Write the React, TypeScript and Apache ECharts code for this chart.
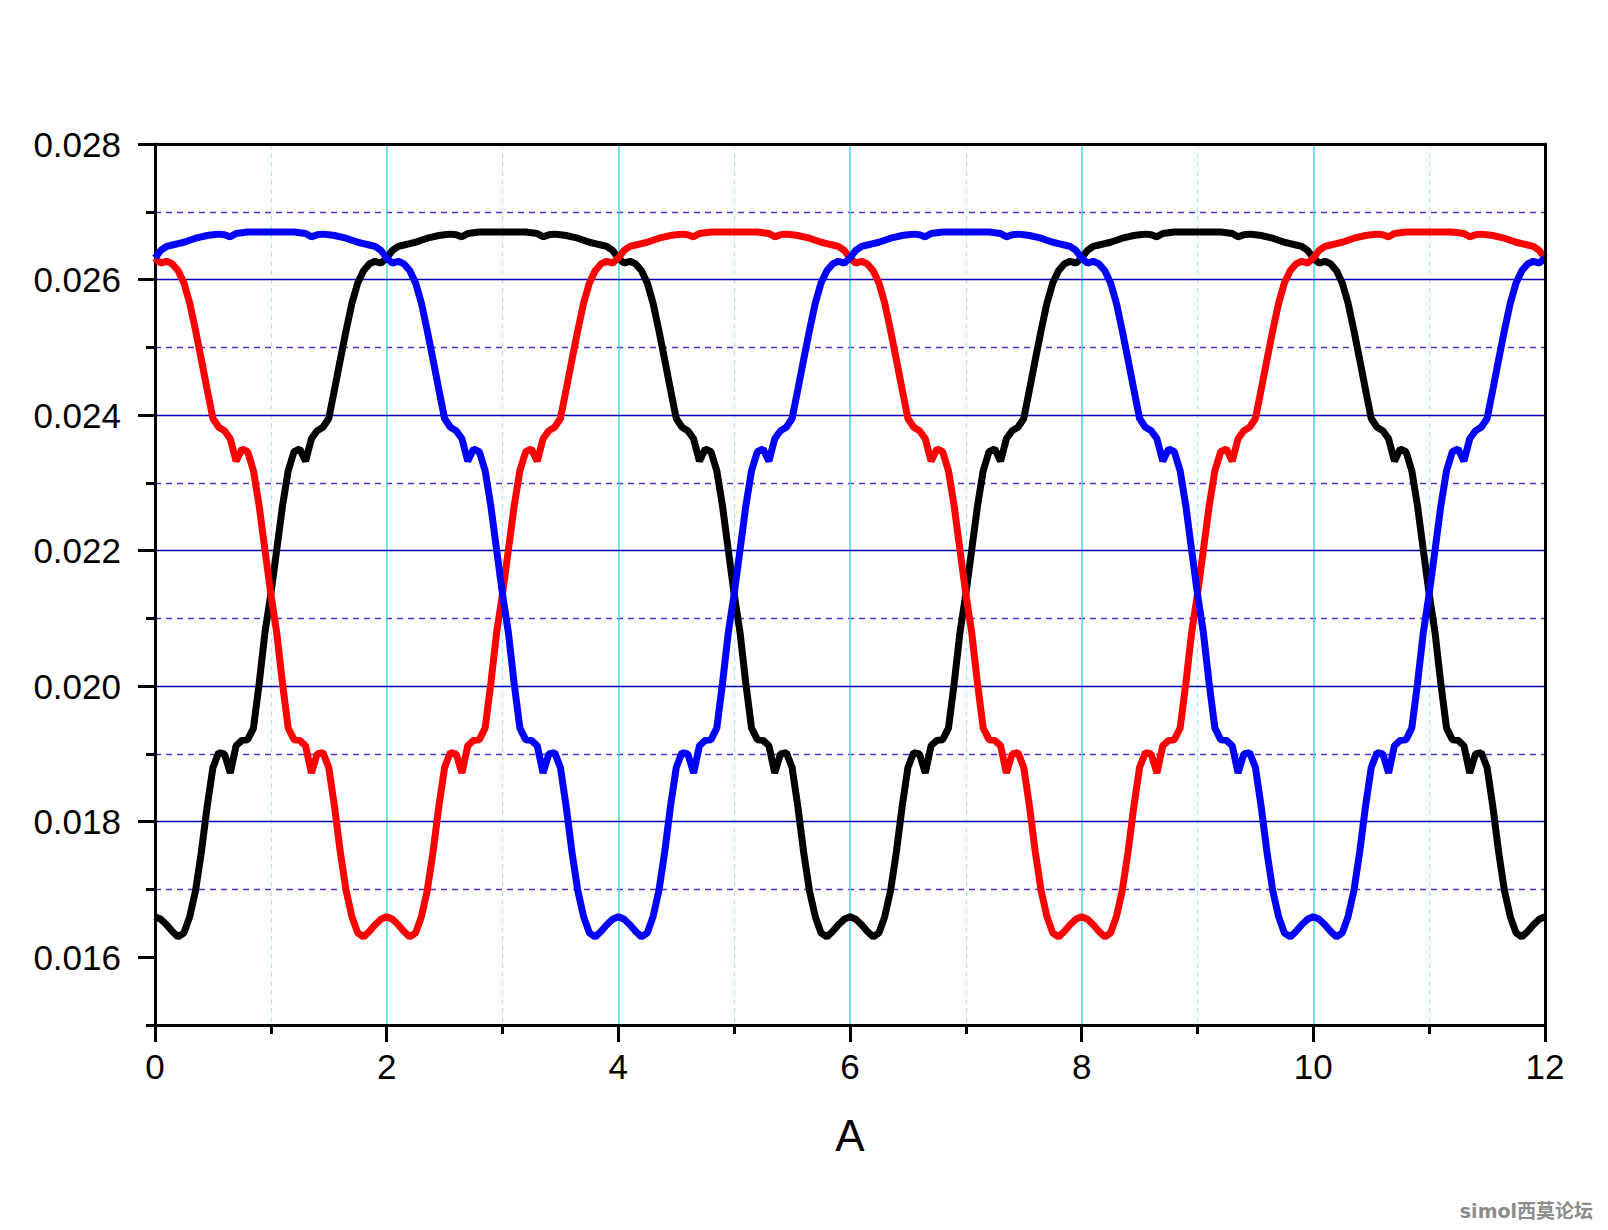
import React, { useEffect, useRef } from "react";
import * as echarts from "echarts";

// x sample positions (A)
const xSamples = [
  0,0.05,0.1,0.15,0.2,0.25,0.3,0.35,0.4,0.45,0.5,0.55,0.6,0.65,0.7,0.75,0.8,0.85,0.9,0.95,
  1,1.05,1.1,1.15,1.2,1.25,1.3,1.35,1.4,1.45,1.5,1.55,1.6,1.65,1.7,1.75,1.8,1.85,1.9,1.95,
  2,2.05,2.1,2.15,2.2,2.25,2.3,2.35,2.4,2.45,2.5,2.55,2.6,2.65,2.7,2.75,2.8,2.85,2.9,2.95,
  3,3.05,3.1,3.15,3.2,3.25,3.3,3.35,3.4,3.45,3.5,3.55,3.6,3.65,3.7,3.75,3.8,3.85,3.9,3.95,
  4,4.05,4.1,4.15,4.2,4.25,4.3,4.35,4.4,4.45,4.5,4.55,4.6,4.65,4.7,4.75,4.8,4.85,4.9,4.95,
  5,5.05,5.1,5.15,5.2,5.25,5.3,5.35,5.4,5.45,5.5,5.55,5.6,5.65,5.7,5.75,5.8,5.85,5.9,5.95,
  6,6.05,6.1,6.15,6.2,6.25,6.3,6.35,6.4,6.45,6.5,6.55,6.6,6.65,6.7,6.75,6.8,6.85,6.9,6.95,
  7,7.05,7.1,7.15,7.2,7.25,7.3,7.35,7.4,7.45,7.5,7.55,7.6,7.65,7.7,7.75,7.8,7.85,7.9,7.95,
  8,8.05,8.1,8.15,8.2,8.25,8.3,8.35,8.4,8.45,8.5,8.55,8.6,8.65,8.7,8.75,8.8,8.85,8.9,8.95,
  9,9.05,9.1,9.15,9.2,9.25,9.3,9.35,9.4,9.45,9.5,9.55,9.6,9.65,9.7,9.75,9.8,9.85,9.9,9.95,
  10,10.05,10.1,10.15,10.2,10.25,10.3,10.35,10.4,10.45,10.5,10.55,10.6,10.65,10.7,10.75,10.8,10.85,10.9,10.95,
  11,11.05,11.1,11.15,11.2,11.25,11.3,11.35,11.4,11.45,11.5,11.55,11.6,11.65,11.7,11.75,11.8,11.85,11.9,11.95,
  12,
];

// black phase
const blackFlux = [
  0.01660,0.01656,0.01648,0.01638,0.01630,0.01636,0.01660,0.01698,0.01755,0.01822,
  0.01880,0.01902,0.01900,0.01872,0.01912,0.01920,0.01921,0.01938,0.02005,0.02080,
  0.02136,0.02200,0.02265,0.02318,0.02346,0.02350,0.02332,0.02365,0.02377,0.02382,
  0.02395,0.02438,0.02482,0.02525,0.02565,0.02595,0.02613,0.02623,0.02627,0.02624,
  0.02632,0.02643,0.02649,0.02651,0.02653,0.02655,0.02658,0.02661,0.02663,0.02665,
  0.02666,0.02667,0.02666,0.02663,0.02668,0.02669,0.02670,0.02670,0.02670,0.02670,
  0.02670,0.02670,0.02670,0.02670,0.02670,0.02669,0.02668,0.02663,0.02666,0.02667,
  0.02666,0.02665,0.02663,0.02661,0.02658,0.02655,0.02653,0.02651,0.02649,0.02643,
  0.02632,0.02624,0.02627,0.02623,0.02613,0.02595,0.02565,0.02525,0.02482,0.02438,
  0.02395,0.02382,0.02377,0.02365,0.02332,0.02350,0.02346,0.02318,0.02265,0.02200,
  0.02136,0.02080,0.02005,0.01938,0.01921,0.01920,0.01912,0.01872,0.01900,0.01902,
  0.01880,0.01822,0.01755,0.01698,0.01660,0.01636,0.01630,0.01638,0.01648,0.01656,
  0.01660,0.01656,0.01648,0.01638,0.01630,0.01636,0.01660,0.01698,0.01755,0.01822,
  0.01880,0.01902,0.01900,0.01872,0.01912,0.01920,0.01921,0.01938,0.02005,0.02080,
  0.02136,0.02200,0.02265,0.02318,0.02346,0.02350,0.02332,0.02365,0.02377,0.02382,
  0.02395,0.02438,0.02482,0.02525,0.02565,0.02595,0.02613,0.02623,0.02627,0.02624,
  0.02632,0.02643,0.02649,0.02651,0.02653,0.02655,0.02658,0.02661,0.02663,0.02665,
  0.02666,0.02667,0.02666,0.02663,0.02668,0.02669,0.02670,0.02670,0.02670,0.02670,
  0.02670,0.02670,0.02670,0.02670,0.02670,0.02669,0.02668,0.02663,0.02666,0.02667,
  0.02666,0.02665,0.02663,0.02661,0.02658,0.02655,0.02653,0.02651,0.02649,0.02643,
  0.02632,0.02624,0.02627,0.02623,0.02613,0.02595,0.02565,0.02525,0.02482,0.02438,
  0.02395,0.02382,0.02377,0.02365,0.02332,0.02350,0.02346,0.02318,0.02265,0.02200,
  0.02136,0.02080,0.02005,0.01938,0.01921,0.01920,0.01912,0.01872,0.01900,0.01902,
  0.01880,0.01822,0.01755,0.01698,0.01660,0.01636,0.01630,0.01638,0.01648,0.01656,
  0.01660,
];

// red phase
const redFlux = [
  0.02632,0.02624,0.02627,0.02623,0.02613,0.02595,0.02565,0.02525,0.02482,0.02438,
  0.02395,0.02382,0.02377,0.02365,0.02332,0.02350,0.02346,0.02318,0.02265,0.02200,
  0.02136,0.02080,0.02005,0.01938,0.01921,0.01920,0.01912,0.01872,0.01900,0.01902,
  0.01880,0.01822,0.01755,0.01698,0.01660,0.01636,0.01630,0.01638,0.01648,0.01656,
  0.01660,0.01656,0.01648,0.01638,0.01630,0.01636,0.01660,0.01698,0.01755,0.01822,
  0.01880,0.01902,0.01900,0.01872,0.01912,0.01920,0.01921,0.01938,0.02005,0.02080,
  0.02136,0.02200,0.02265,0.02318,0.02346,0.02350,0.02332,0.02365,0.02377,0.02382,
  0.02395,0.02438,0.02482,0.02525,0.02565,0.02595,0.02613,0.02623,0.02627,0.02624,
  0.02632,0.02643,0.02649,0.02651,0.02653,0.02655,0.02658,0.02661,0.02663,0.02665,
  0.02666,0.02667,0.02666,0.02663,0.02668,0.02669,0.02670,0.02670,0.02670,0.02670,
  0.02670,0.02670,0.02670,0.02670,0.02670,0.02669,0.02668,0.02663,0.02666,0.02667,
  0.02666,0.02665,0.02663,0.02661,0.02658,0.02655,0.02653,0.02651,0.02649,0.02643,
  0.02632,0.02624,0.02627,0.02623,0.02613,0.02595,0.02565,0.02525,0.02482,0.02438,
  0.02395,0.02382,0.02377,0.02365,0.02332,0.02350,0.02346,0.02318,0.02265,0.02200,
  0.02136,0.02080,0.02005,0.01938,0.01921,0.01920,0.01912,0.01872,0.01900,0.01902,
  0.01880,0.01822,0.01755,0.01698,0.01660,0.01636,0.01630,0.01638,0.01648,0.01656,
  0.01660,0.01656,0.01648,0.01638,0.01630,0.01636,0.01660,0.01698,0.01755,0.01822,
  0.01880,0.01902,0.01900,0.01872,0.01912,0.01920,0.01921,0.01938,0.02005,0.02080,
  0.02136,0.02200,0.02265,0.02318,0.02346,0.02350,0.02332,0.02365,0.02377,0.02382,
  0.02395,0.02438,0.02482,0.02525,0.02565,0.02595,0.02613,0.02623,0.02627,0.02624,
  0.02632,0.02643,0.02649,0.02651,0.02653,0.02655,0.02658,0.02661,0.02663,0.02665,
  0.02666,0.02667,0.02666,0.02663,0.02668,0.02669,0.02670,0.02670,0.02670,0.02670,
  0.02670,0.02670,0.02670,0.02670,0.02670,0.02669,0.02668,0.02663,0.02666,0.02667,
  0.02666,0.02665,0.02663,0.02661,0.02658,0.02655,0.02653,0.02651,0.02649,0.02643,
  0.02632,
];

// blue phase
const blueFlux = [
  0.02632,0.02643,0.02649,0.02651,0.02653,0.02655,0.02658,0.02661,0.02663,0.02665,
  0.02666,0.02667,0.02666,0.02663,0.02668,0.02669,0.02670,0.02670,0.02670,0.02670,
  0.02670,0.02670,0.02670,0.02670,0.02670,0.02669,0.02668,0.02663,0.02666,0.02667,
  0.02666,0.02665,0.02663,0.02661,0.02658,0.02655,0.02653,0.02651,0.02649,0.02643,
  0.02632,0.02624,0.02627,0.02623,0.02613,0.02595,0.02565,0.02525,0.02482,0.02438,
  0.02395,0.02382,0.02377,0.02365,0.02332,0.02350,0.02346,0.02318,0.02265,0.02200,
  0.02136,0.02080,0.02005,0.01938,0.01921,0.01920,0.01912,0.01872,0.01900,0.01902,
  0.01880,0.01822,0.01755,0.01698,0.01660,0.01636,0.01630,0.01638,0.01648,0.01656,
  0.01660,0.01656,0.01648,0.01638,0.01630,0.01636,0.01660,0.01698,0.01755,0.01822,
  0.01880,0.01902,0.01900,0.01872,0.01912,0.01920,0.01921,0.01938,0.02005,0.02080,
  0.02136,0.02200,0.02265,0.02318,0.02346,0.02350,0.02332,0.02365,0.02377,0.02382,
  0.02395,0.02438,0.02482,0.02525,0.02565,0.02595,0.02613,0.02623,0.02627,0.02624,
  0.02632,0.02643,0.02649,0.02651,0.02653,0.02655,0.02658,0.02661,0.02663,0.02665,
  0.02666,0.02667,0.02666,0.02663,0.02668,0.02669,0.02670,0.02670,0.02670,0.02670,
  0.02670,0.02670,0.02670,0.02670,0.02670,0.02669,0.02668,0.02663,0.02666,0.02667,
  0.02666,0.02665,0.02663,0.02661,0.02658,0.02655,0.02653,0.02651,0.02649,0.02643,
  0.02632,0.02624,0.02627,0.02623,0.02613,0.02595,0.02565,0.02525,0.02482,0.02438,
  0.02395,0.02382,0.02377,0.02365,0.02332,0.02350,0.02346,0.02318,0.02265,0.02200,
  0.02136,0.02080,0.02005,0.01938,0.01921,0.01920,0.01912,0.01872,0.01900,0.01902,
  0.01880,0.01822,0.01755,0.01698,0.01660,0.01636,0.01630,0.01638,0.01648,0.01656,
  0.01660,0.01656,0.01648,0.01638,0.01630,0.01636,0.01660,0.01698,0.01755,0.01822,
  0.01880,0.01902,0.01900,0.01872,0.01912,0.01920,0.01921,0.01938,0.02005,0.02080,
  0.02136,0.02200,0.02265,0.02318,0.02346,0.02350,0.02332,0.02365,0.02377,0.02382,
  0.02395,0.02438,0.02482,0.02525,0.02565,0.02595,0.02613,0.02623,0.02627,0.02624,
  0.02632,
];

const yMajorTicks = [0.016, 0.018, 0.02, 0.022, 0.024, 0.026, 0.028];
const xAxisName = "A";
const watermarkText = "simol西莫论坛";

const FONT = "'Liberation Sans', Arial, sans-serif";

export default function App() {
  const ref = useRef<HTMLDivElement>(null);

  useEffect(() => {
    if (!ref.current) return;
    const chart = echarts.init(ref.current, undefined, { renderer: "svg" });

    const pair = (ys: number[]) => xSamples.map((x, i) => [x, ys[i]]);

    const option: any = {
      animation: false,
      backgroundColor: "#ffffff",
      grid: { left: 155, right: 63, top: 144, bottom: 205, containLabel: false },
      xAxis: [
        {
          type: "value",
          min: 0,
          max: 12,
          interval: 2,
          position: "bottom",
          name: xAxisName,
          nameLocation: "middle",
          nameGap: 88,
          nameTextStyle: { fontSize: 44, color: "#000", fontFamily: FONT },
          axisLine: { show: true, onZero: false, lineStyle: { color: "#000", width: 3 } },
          axisTick: { show: true, inside: false, length: 17, lineStyle: { color: "#000", width: 3 } },
          minorTick: { show: true, splitNumber: 2, length: 9, lineStyle: { color: "#000", width: 3 } },
          axisLabel: { fontSize: 35, color: "#000", fontFamily: FONT, margin: 24 },
          splitLine: {
            show: true,
            showMinLine: false,
            showMaxLine: false,
            lineStyle: { color: "#40dcec", width: 1.5, type: "solid" },
          },
          minorSplitLine: { show: true, lineStyle: { color: "#a6eaf4", width: 1.2, type: [5, 4] } },
          z: 1,
        },
        {
          type: "value",
          min: 0,
          max: 12,
          position: "top",
          axisLine: { show: true, onZero: false, lineStyle: { color: "#000", width: 3 } },
          axisTick: { show: false },
          axisLabel: { show: false },
          splitLine: { show: false },
          z: 10,
        },
      ],
      yAxis: [
        {
          type: "value",
          min: 0.015,
          max: 0.028,
          position: "left",
          axisLine: { show: true, onZero: false, lineStyle: { color: "#000", width: 3 } },
          axisTick: {
            show: true,
            inside: false,
            length: 17,
            customValues: yMajorTicks,
            lineStyle: { color: "#000", width: 3 },
          },
          axisLabel: {
            fontSize: 35,
            color: "#000",
            fontFamily: FONT,
            margin: 34,
            customValues: yMajorTicks,
            formatter: (v: number) => v.toFixed(3),
          },
          splitLine: {
            show: true,
            showMinLine: false,
            showMaxLine: false,
            lineStyle: { color: "#0000b4", width: 1.3, type: "solid" },
          },
          z: 2,
        },
        {
          type: "value",
          min: 0.015,
          max: 0.028,
          interval: 0.002,
          position: "left",
          axisLine: { show: false },
          axisTick: { show: true, inside: false, length: 9, lineStyle: { color: "#000", width: 3 } },
          axisLabel: { show: false },
          splitLine: {
            show: true,
            showMinLine: false,
            showMaxLine: false,
            lineStyle: { color: "#5a2cc8", width: 1.3, type: [6, 5] },
          },
          z: 1,
        },
        {
          type: "value",
          min: 0.015,
          max: 0.028,
          position: "right",
          axisLine: { show: true, onZero: false, lineStyle: { color: "#000", width: 3 } },
          axisTick: { show: false },
          axisLabel: { show: false },
          splitLine: { show: false },
          z: 10,
        },
      ],
      series: [
        {
          name: "black",
          type: "line",
          xAxisIndex: 0,
          yAxisIndex: 0,
          data: pair(blackFlux),
          showSymbol: false,
          symbol: "none",
          lineStyle: { color: "#000000", width: 7 },
          itemStyle: { color: "#000000" },
          z: 3,
        },
        {
          name: "red",
          type: "line",
          xAxisIndex: 0,
          yAxisIndex: 0,
          data: pair(redFlux),
          showSymbol: false,
          symbol: "none",
          lineStyle: { color: "#ff0000", width: 7 },
          itemStyle: { color: "#ff0000" },
          z: 4,
        },
        {
          name: "blue",
          type: "line",
          xAxisIndex: 0,
          yAxisIndex: 0,
          data: pair(blueFlux),
          showSymbol: false,
          symbol: "none",
          lineStyle: { color: "#0000ff", width: 7 },
          itemStyle: { color: "#0000ff" },
          z: 5,
        },
      ],
      graphic: [
        {
          type: "text",
          right: 15,
          top: 1201,
          style: {
            text: watermarkText,
            fill: "#8c8c8c",
            font: "bold 19px 'DejaVu Sans', 'Noto Sans CJK SC', sans-serif",
          },
        },
      ],
    };

    chart.setOption(option);
    return () => chart.dispose();
  }, []);

  return (
    <div
      ref={ref}
      style={{ position: "absolute", left: 0, top: 0, width: 1608, height: 1230, background: "#fff" }}
    />
  );
}
